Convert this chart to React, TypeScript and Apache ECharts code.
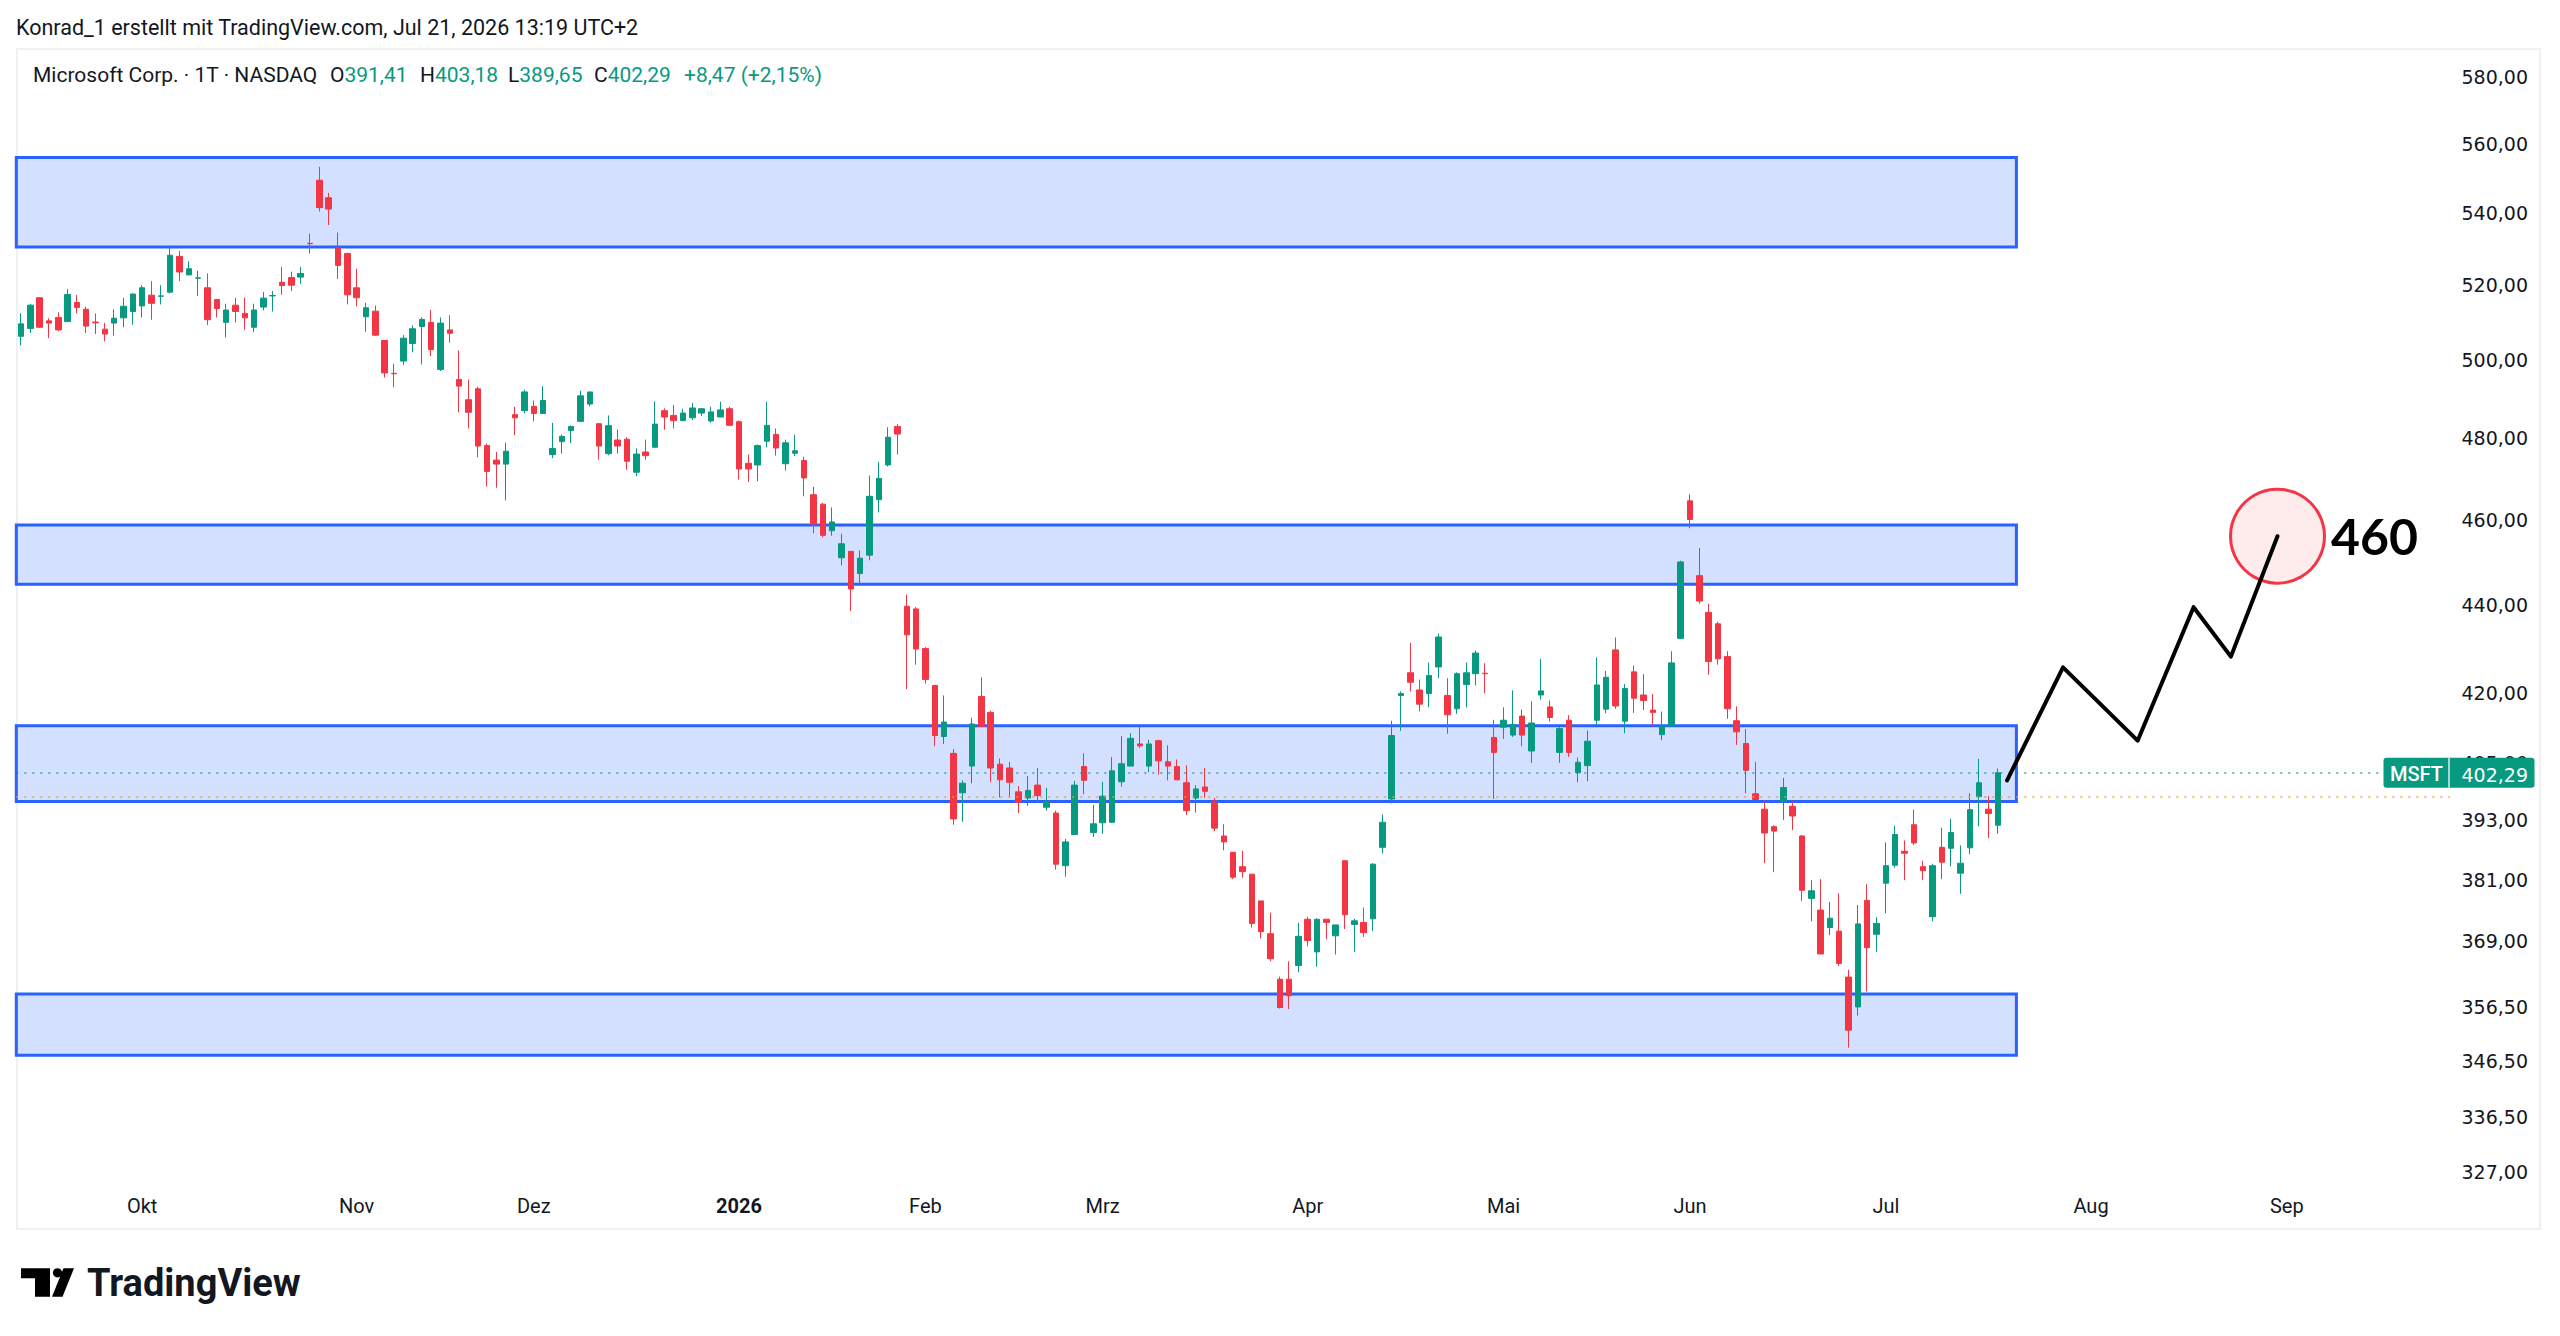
import React, { useEffect, useRef } from 'react';
import * as echarts from 'echarts';

// ---------- calendar ----------
const FIRST_SESSION = '2025-09-12';
const SESSION_COUNT = 261;
const HOLIDAYS = ['2025-11-27', '2025-12-25', '2026-01-01', '2026-01-19', '2026-02-16', '2026-04-03', '2026-05-25', '2026-06-19', '2026-07-03', '2026-09-07'];
const MONTHS_DE = ['Jan', 'Feb', 'Mrz', 'Apr', 'Mai', 'Jun', 'Jul', 'Aug', 'Sep', 'Okt', 'Nov', 'Dez'];

function tradingDays(start: string, count: number, holidays: string[]) {
  const out: string[] = [];
  const d = new Date(start + 'T00:00:00Z');
  while (out.length < count) {
    const dow = d.getUTCDay();
    const s = d.toISOString().slice(0, 10);
    if (dow !== 0 && dow !== 6 && holidays.indexOf(s) < 0) out.push(s);
    d.setUTCDate(d.getUTCDate() + 1);
  }
  return out;
}
const categories = tradingDays(FIRST_SESSION, SESSION_COUNT, HOLIDAYS);

// ---------- candles [open, close, low, high] ----------
const sep2025 = [
  [505.5, 508.8, 503.1, 511.6], [507.6, 513.8, 506.4, 514.2], [515.8, 507.9, 507.7, 516.0], [509.6, 509.0, 505.0, 510.3],
  [510.5, 507.2, 506.8, 511.9], [509.4, 516.7, 509.4, 518.1], [514.5, 513.2, 511.6, 516.5], [512.7, 508.2, 506.4, 513.4],
  [509.3, 509.1, 506.1, 511.6], [507.4, 506.1, 504.2, 509.1], [509.0, 510.3, 505.7, 512.7], [510.4, 513.5, 507.9, 515.8],
  [512.1, 516.8, 508.6, 517.0],
];
const oct2025 = [
  [513.6, 518.5, 510.5, 519.2], [516.5, 514.3, 509.9, 520.3], [516.2, 516.3, 514.0, 519.2], [517.3, 527.4, 517.0, 529.6],
  [527.1, 522.8, 520.3, 528.6], [522.0, 523.7, 522.0, 525.7], [521.1, 521.2, 516.3, 523.1], [518.5, 509.9, 508.5, 522.4],
  [515.3, 512.9, 510.5, 515.3], [509.2, 512.5, 505.2, 514.2], [513.8, 512.1, 509.2, 515.8], [511.6, 510.4, 507.2, 515.8],
  [507.9, 512.5, 506.6, 514.2], [513.3, 515.7, 512.4, 517.4], [516.3, 516.4, 512.1, 517.6], [520.0, 519.1, 516.6, 524.2],
  [521.3, 519.2, 517.6, 522.9], [521.4, 522.4, 519.6, 524.2], [530.7, 530.6, 527.9, 533.4], [548.5, 540.7, 539.6, 552.4],
  [543.5, 540.3, 535.8, 544.9], [529.5, 524.6, 520.9, 533.7], [527.9, 516.6, 514.0, 528.1],
];
const nov2025 = [
  [518.5, 515.8, 513.5, 523.7], [510.7, 513.1, 506.7, 514.4], [512.2, 505.8, 505.6, 513.7], [504.4, 495.9, 494.7, 504.4],
  [495.8, 495.7, 492.2, 498.3], [499.0, 505.0, 498.0, 505.8], [503.6, 507.5, 501.3, 508.4], [508.1, 510.0, 498.1, 510.5],
  [509.2, 502.0, 500.3, 512.5], [496.8, 509.0, 496.4, 510.5], [507.2, 506.3, 503.8, 511.1], [494.2, 492.5, 485.8, 501.8],
  [489.0, 485.8, 481.7, 494.2], [491.8, 477.3, 474.5, 492.3], [477.4, 471.0, 467.3, 477.9], [473.8, 472.8, 467.0, 475.8],
  [472.8, 476.0, 463.9, 478.1], [485.2, 484.4, 480.0, 487.2], [486.2, 491.0, 485.5, 491.6],
];
const dec2025 = [
  [487.3, 485.5, 483.5, 488.8], [485.5, 488.8, 485.5, 492.5], [475.2, 476.7, 474.3, 483.1], [478.4, 479.7, 475.4, 480.2],
  [481.2, 482.2, 478.0, 482.4], [483.5, 490.0, 483.5, 491.3], [487.9, 491.0, 487.3, 491.0], [482.9, 477.3, 473.9, 483.1],
  [475.4, 482.4, 475.0, 485.0], [478.8, 477.3, 475.4, 481.4], [479.0, 473.5, 471.4, 479.5], [470.8, 475.3, 469.8, 476.7],
  [475.8, 474.9, 473.9, 478.9], [477.0, 482.8, 476.8, 488.6], [486.2, 484.6, 481.4, 486.8], [485.0, 483.7, 481.7, 487.7],
  [483.7, 485.6, 483.5, 486.7], [484.4, 486.9, 483.8, 488.2], [485.6, 486.7, 484.8, 486.9], [483.6, 485.9, 483.2, 487.2],
  [484.6, 486.4, 484.6, 488.5], [486.7, 482.5, 482.4, 487.2],
];
const jan2026 = [
  [483.4, 471.6, 469.0, 483.7], [473.0, 471.6, 468.4, 475.2], [472.6, 477.4, 468.6, 477.7], [478.5, 482.5, 477.0, 488.5],
  [480.2, 476.8, 474.9, 481.7], [472.9, 478.1, 471.2, 478.9], [475.5, 476.1, 474.8, 480.1], [473.7, 469.4, 464.9, 474.6],
  [465.3, 458.2, 456.0, 467.2], [463.0, 455.5, 455.0, 463.3], [456.6, 458.7, 455.4, 462.2], [450.2, 453.5, 448.4, 455.9],
  [451.7, 442.9, 437.8, 451.7], [446.5, 450.1, 443.9, 451.9], [450.8, 464.9, 449.6, 470.0], [464.1, 469.3, 461.0, 473.3],
  [472.6, 479.5, 472.2, 482.0], [482.2, 480.3, 475.2, 482.8], [438.9, 432.4, 420.3, 441.6], [438.3, 429.2, 425.7, 438.7],
];
const feb2026 = [
  [429.3, 422.4, 421.5, 429.6], [421.1, 410.2, 407.9, 421.1], [410.0, 413.1, 408.4, 418.9], [406.4, 392.7, 391.5, 407.3],
  [398.1, 400.1, 392.1, 400.7], [403.7, 412.7, 400.1, 414.0], [418.7, 412.2, 412.0, 422.9], [415.2, 403.3, 400.3, 415.6],
  [404.1, 400.8, 397.1, 405.3], [403.3, 400.3, 397.2, 404.6], [398.3, 396.1, 393.9, 399.5], [397.0, 398.6, 395.4, 401.6],
  [399.7, 397.5, 396.0, 403.3], [395.1, 396.2, 394.4, 399.1], [393.9, 383.5, 382.4, 394.4], [383.2, 388.0, 381.0, 388.6],
  [389.5, 399.7, 389.4, 400.6], [403.6, 400.7, 397.8, 406.4], [389.9, 391.7, 389.0, 395.6],
];
const mar2026 = [
  [391.9, 397.4, 389.7, 400.4], [392.0, 402.7, 391.9, 405.6], [400.4, 404.2, 399.4, 410.1], [403.7, 409.6, 403.7, 410.7],
  [408.4, 408.0, 407.6, 412.2], [403.7, 408.4, 402.4, 409.3], [409.1, 404.8, 401.9, 409.3], [404.6, 403.7, 400.7, 408.1],
  [403.6, 400.8, 400.8, 405.1], [400.2, 394.4, 393.5, 403.9], [397.0, 398.9, 394.0, 399.7], [399.3, 398.4, 397.1, 403.3],
  [396.2, 390.8, 390.2, 397.0], [389.2, 388.0, 386.3, 391.6], [385.9, 380.9, 380.5, 385.9], [383.0, 382.0, 380.8, 386.2],
  [381.5, 371.8, 371.0, 381.5], [376.2, 370.2, 368.9, 376.2], [369.8, 365.0, 364.5, 373.9], [361.1, 355.8, 355.6, 361.6],
  [361.1, 358.0, 355.5, 364.5], [363.7, 369.3, 362.4, 371.9],
];
const apr2026 = [
  [372.6, 368.5, 367.4, 373.1], [366.3, 372.6, 363.5, 372.8], [372.6, 372.0, 368.7, 372.7], [369.4, 371.5, 365.8, 371.5],
  [384.2, 373.5, 370.7, 384.2], [371.6, 372.3, 366.3, 372.7], [372.0, 370.0, 369.2, 374.9], [372.7, 383.5, 370.3, 383.7],
  [386.9, 392.0, 385.7, 393.6], [396.8, 410.2, 395.9, 413.4], [418.9, 419.3, 411.2, 419.8], [423.9, 421.8, 419.8, 430.6],
  [420.1, 417.0, 415.4, 422.4], [419.3, 423.3, 416.3, 426.2], [425.2, 431.9, 422.7, 432.7], [418.9, 414.7, 410.6, 422.7],
  [416.0, 423.7, 414.9, 424.0], [421.3, 423.9, 416.3, 426.2], [423.7, 428.3, 421.1, 428.9], [423.8, 423.7, 419.4, 426.0],
  [409.8, 406.6, 396.8, 413.6],
];
const may2026 = [
  [412.0, 413.5, 409.5, 416.3], [410.3, 412.6, 409.9, 420.0], [414.4, 410.3, 407.9, 415.8], [406.9, 412.9, 404.4, 417.6],
  [419.0, 419.9, 418.0, 427.0], [416.4, 414.1, 413.2, 417.8], [406.6, 411.7, 404.4, 412.0], [413.5, 406.6, 405.6, 414.6],
  [402.3, 404.5, 400.3, 405.5], [403.8, 409.0, 400.5, 411.3], [413.5, 421.2, 412.5, 427.3], [415.9, 422.9, 415.0, 424.3],
  [429.0, 416.6, 416.0, 431.8], [413.3, 420.4, 410.7, 421.4], [424.1, 418.3, 415.1, 425.5], [419.0, 417.8, 415.7, 423.6],
  [415.7, 415.2, 412.5, 419.2], [410.4, 412.3, 409.2, 415.4], [412.3, 426.1, 412.1, 428.7], [431.6, 449.2, 431.5, 449.5],
];
const jun2026 = [
  [463.8, 459.3, 457.2, 465.4], [446.0, 440.1, 439.5, 452.5], [437.5, 426.4, 423.5, 439.5], [434.9, 427.0, 425.7, 435.4],
  [427.5, 416.0, 413.8, 428.7], [413.4, 411.0, 408.2, 416.5], [408.5, 402.8, 398.0, 411.6], [397.9, 396.7, 396.7, 404.6],
  [394.7, 389.8, 383.7, 396.4], [391.1, 390.2, 381.9, 391.4], [396.3, 399.2, 392.5, 401.2], [395.3, 393.3, 390.4, 396.4],
  [389.2, 378.3, 376.2, 389.4], [376.7, 378.2, 372.2, 380.3], [374.4, 365.9, 365.9, 380.5], [371.0, 372.8, 369.5, 376.0],
  [370.3, 364.1, 363.6, 377.7], [361.5, 351.6, 348.4, 362.9], [355.9, 371.7, 354.3, 375.4], [376.3, 367.1, 358.8, 379.5],
  [369.7, 371.8, 366.3, 373.0],
];
const jul2026 = [
  [379.7, 383.2, 373.8, 387.9], [383.3, 389.5, 382.8, 391.3], [386.1, 385.7, 380.3, 388.3], [391.5, 387.8, 387.4, 394.6],
  [383.0, 382.2, 380.3, 384.2], [373.1, 383.2, 372.2, 383.6], [386.9, 383.9, 380.5, 390.9], [386.7, 389.9, 383.1, 392.7],
  [381.7, 383.7, 377.6, 387.3], [386.8, 394.6, 385.5, 398.0], [397.3, 400.2, 391.2, 405.2], [394.7, 393.8, 388.8, 397.4],
  [391.41, 402.29, 389.65, 403.18],
];
const candles = [
  ...sep2025, ...oct2025, ...nov2025, ...dec2025, ...jan2026, ...feb2026,
  ...mar2026, ...apr2026, ...may2026, ...jun2026, ...jul2026,
];

// ---------- annotations ----------
const zoneLow = [529.7, 444.0, 396.3, 347.0];
const zoneHigh = [555.1, 458.0, 412.3, 358.3];
const zoneEnd = '2026-07-22';

const projDates = ['2026-07-21', '2026-07-29', '2026-08-10', '2026-08-18', '2026-08-24', '2026-08-31'];
const projPrices = [400.7, 425.1, 409.1, 438.7, 427.5, 455.3];

const targetDate = '2026-08-31';
const targetPrice = 455.3;
const targetLabel = '460';

const lastDate = '2026-07-20';
const lastClose = 402.29;
const orangeLevel = 397.2;

const priceTicks = [580, 560, 540, 520, 500, 480, 460, 440, 420, 405, 393, 381, 369, 356.5, 346.5, 336.5, 327];
const yMin = 323.9;
const yMax = 587.5;

const headerText = 'Konrad_1 erstellt mit TradingView.com, Jul 21, 2026 13:19 UTC+2';
const legendTitle = 'Microsoft Corp. · 1T · NASDAQ';
const legendKeys = ['O', 'H', 'L', 'C'];
const legendValues = ['391,41', '403,18', '389,65', '402,29'];
const legendChange = '+8,47 (+2,15%)';

const UP = '#089981';
const DOWN = '#f23645';
const INK = '#131722';

const fmt = (v: number) => v.toFixed(2).replace('.', ',');

function buildOption() {
  const legendX = [330, 420, 508, 594];
  const legendGraphics: any[] = legendKeys.map((k, i) => ({
    type: 'text',
    x: legendX[i],
    y: 75,
    silent: true,
    style: {
      text: `{k|${k}}{v|${legendValues[i]}}`,
      verticalAlign: 'middle',
      rich: {
        k: { fill: INK, fontSize: 21, fontFamily: 'Roboto' },
        v: { fill: UP, fontSize: 21, fontFamily: 'Roboto' },
      },
    },
  }));

  return {
    animation: false,
    backgroundColor: '#ffffff',
    grid: { left: 16.3, right: 110, top: 49, bottom: 149, containLabel: false },
    xAxis: {
      type: 'category',
      data: categories,
      boundaryGap: true,
      axisLine: { show: false },
      axisTick: { show: false },
      splitLine: { show: false },
      axisLabel: {
        margin: 9,
        color: INK,
        fontSize: 20,
        fontFamily: 'Roboto',
        interval: (i: number) => i > 0 && categories[i].slice(5, 7) !== categories[i - 1].slice(5, 7),
        formatter: (v: string) => {
          const m = parseInt(v.slice(5, 7), 10);
          return m === 1 ? `{y|${v.slice(0, 4)}}` : MONTHS_DE[m - 1];
        },
        rich: { y: { fontWeight: 'bold', fontSize: 20, fontFamily: 'Roboto', color: INK } },
      },
    },
    yAxis: {
      type: 'log',
      logBase: 10,
      min: yMin,
      max: yMax,
      position: 'right',
      axisLine: { show: false },
      axisTick: { show: false },
      splitLine: { show: false },
      minorSplitLine: { show: false },
      axisLabel: { show: false },
    },
    series: [
      {
        type: 'custom',
        name: 'zones',
        z: 1,
        silent: true,
        data: zoneLow.map((lo, i) => [zoneEnd, lo, zoneHigh[i]]),
        encode: { x: 0, y: [1, 2] },
        renderItem: (params: any, api: any) => {
          const top = api.coord([api.value(0), api.value(2)]);
          const bot = api.coord([api.value(0), api.value(1)]);
          const left = params.coordSys.x;
          return {
            type: 'rect',
            shape: { x: left, y: top[1], width: top[0] - left, height: bot[1] - top[1] },
            style: { fill: 'rgba(41,98,255,0.2)', stroke: '#2962ff', lineWidth: 3 },
          };
        },
      },
      {
        type: 'candlestick',
        name: 'MSFT',
        z: 2,
        data: candles,
        barWidth: 6,
        itemStyle: {
          color: UP,
          color0: DOWN,
          borderColor: UP,
          borderColor0: DOWN,
          borderWidth: 1,
        },
        markLine: {
          silent: true,
          symbol: ['none', 'none'],
          label: { show: false },
          data: [
            { yAxis: lastClose, lineStyle: { color: UP, type: [2, 6], width: 1.5, opacity: 0.8 } },
            { yAxis: orangeLevel, lineStyle: { color: '#ff9800', type: [2, 6], width: 1.5, opacity: 0.9 } },
          ],
        },
      },
      {
        type: 'scatter',
        name: 'target',
        z: 4,
        silent: true,
        data: [[targetDate, targetPrice]],
        symbol: 'circle',
        symbolSize: 94,
        itemStyle: { color: 'rgba(242,54,69,0.1)', borderColor: DOWN, borderWidth: 3, opacity: 1 },
        label: {
          show: true,
          position: 'right',
          distance: 5,
          formatter: targetLabel,
          fontSize: 50,
          fontWeight: 'bold',
          fontFamily: 'Lato',
          color: '#000000',
        },
      },
      {
        type: 'line',
        name: 'projection',
        z: 5,
        silent: true,
        data: projDates.map((d, i) => [d, projPrices[i]]),
        symbol: 'none',
        lineStyle: { color: '#000000', width: 4, cap: 'round', join: 'round' },
      },
      {
        type: 'custom',
        name: 'priceLabels',
        z: 3,
        silent: true,
        clip: false,
        data: priceTicks.map((v) => [0, v]),
        renderItem: (params: any, api: any) => {
          const p = api.coord([api.value(0), api.value(1)]);
          const right = params.coordSys.x + params.coordSys.width;
          return {
            type: 'text',
            x: right + 11.5,
            y: p[1] + 3,
            style: {
              text: fmt(api.value(1)),
              fill: INK,
              fontSize: 19,
              fontFamily: 'DejaVu Sans',
              align: 'left',
              verticalAlign: 'middle',
            },
          };
        },
      },
      {
        type: 'custom',
        name: 'badge',
        z: 10,
        silent: true,
        clip: false,
        data: [[lastDate, lastClose]],
        renderItem: (params: any, api: any) => {
          const p = api.coord([api.value(0), api.value(1)]);
          const right = params.coordSys.x + params.coordSys.width;
          return {
            type: 'group',
            children: [
              { type: 'rect', shape: { x: right - 66.5, y: p[1] - 15, width: 151, height: 30, r: 3 }, style: { fill: UP } },
              { type: 'line', shape: { x1: right - 1, y1: p[1] - 15, x2: right - 1, y2: p[1] + 15 }, style: { stroke: 'rgba(255,255,255,0.85)', lineWidth: 1.5 } },
              {
                type: 'text', x: right - 33.5, y: p[1] + 1,
                style: { text: 'MSFT', fill: '#ffffff', fontSize: 20, fontFamily: 'Roboto', fontWeight: 500, align: 'center', verticalAlign: 'middle' },
              },
              {
                type: 'text', x: right + 11.5, y: p[1] + 2,
                style: { text: fmt(api.value(1)), fill: '#ffffff', fontSize: 19, fontFamily: 'DejaVu Sans', align: 'left', verticalAlign: 'middle' },
              },
            ],
          };
        },
      },
    ],
    graphic: [
      {
        type: 'rect', silent: true, z: -10,
        shape: { x: 17, y: 49, width: 2523, height: 1180 },
        style: { fill: 'none', stroke: '#eef0f3', lineWidth: 2 },
      },
      {
        type: 'text', x: 16, y: 27, silent: true,
        style: { text: headerText, fill: INK, fontSize: 21.5, fontFamily: 'Roboto', verticalAlign: 'middle' },
      },
      {
        type: 'text', x: 33, y: 75, silent: true,
        style: { text: legendTitle, fill: INK, fontSize: 21, fontFamily: 'Roboto', verticalAlign: 'middle' },
      },
      ...legendGraphics,
      {
        type: 'text', x: 684, y: 75, silent: true,
        style: { text: legendChange, fill: UP, fontSize: 21, fontFamily: 'Roboto', verticalAlign: 'middle' },
      },
      {
        type: 'polygon', silent: true,
        shape: { points: [[21, 1268.3], [50, 1268.3], [50, 1296.7], [35, 1296.7], [35, 1278.3], [21, 1278.3]] },
        style: { fill: '#000000' },
      },
      { type: 'circle', silent: true, shape: { cx: 57.5, cy: 1272.8, r: 4.6 }, style: { fill: '#000000' } },
      {
        type: 'polygon', silent: true,
        shape: { points: [[63.5, 1268.3], [74, 1268.3], [62.5, 1296.7], [52, 1296.7]] },
        style: { fill: '#000000' },
      },
      {
        type: 'text', x: 87, y: 1283, silent: true,
        style: { text: 'TradingView', fill: INK, fontSize: 38, fontWeight: 'bold', fontFamily: 'Roboto', verticalAlign: 'middle' },
      },
    ],
  };
}

export default function App() {
  const ref = useRef<HTMLDivElement>(null);
  useEffect(() => {
    if (!ref.current) return;
    const chart = echarts.init(ref.current, null, { renderer: 'svg' });
    chart.setOption(buildOption() as any);
    return () => chart.dispose();
  }, []);
  return (
    <div
      ref={ref}
      style={{ position: 'absolute', left: 0, top: 0, width: '2560px', height: '1336px', background: '#ffffff' }}
    />
  );
}
